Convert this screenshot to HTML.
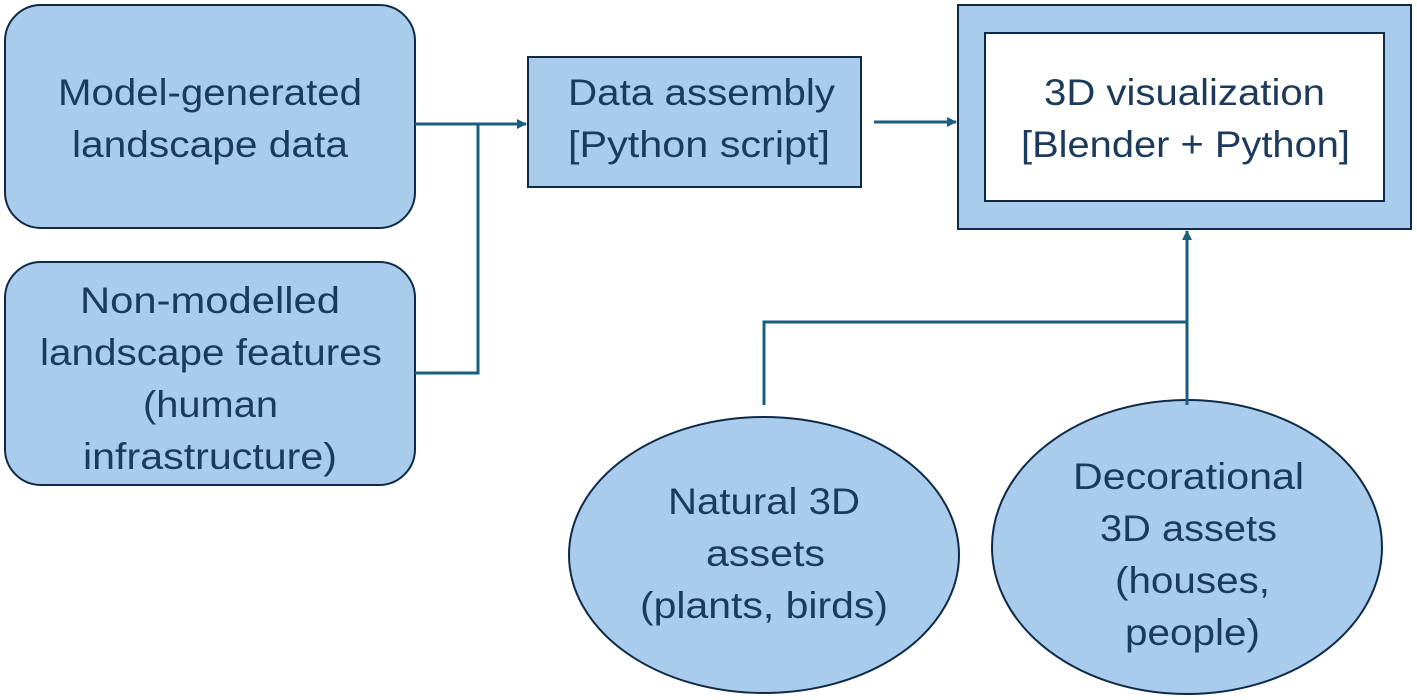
<!DOCTYPE html>
<html><head><meta charset="utf-8"><style>html,body{margin:0;padding:0;background:#fff}svg{display:block}</style></head>
<body>
<svg width="1417" height="700" viewBox="0 0 1417 700" xmlns="http://www.w3.org/2000/svg">
<defs><marker id="a" markerWidth="10" markerHeight="10" refX="9" refY="5" orient="auto" markerUnits="userSpaceOnUse"><path d="M0,0 L10,5 L0,10 z" fill="#1a5f80"/></marker></defs>
<g fill="#a9ccec" stroke="#0e2a47" stroke-width="2">
<rect x="5" y="5" width="410" height="223" rx="36"/>
<rect x="5" y="262" width="410" height="223" rx="36"/>
<rect x="528" y="57" width="333" height="130"/>
<rect x="958" y="5" width="453" height="224"/>
<rect x="985" y="33" width="399" height="168" fill="#fff"/>
<ellipse cx="764" cy="555" rx="195" ry="138"/>
<ellipse cx="1187" cy="547" rx="195" ry="147"/>
</g>
<g stroke="#1a5f80" stroke-width="3" fill="none">
<path d="M415,124 H526" marker-end="url(#a)"/>
<path d="M478,124 V373 H415"/>
<path d="M874,122 H956" marker-end="url(#a)"/>
<path d="M1187,405 V231" marker-end="url(#a)"/>
<path d="M764,405 V322 H1187"/>
</g>
<g font-family="Liberation Sans, sans-serif" font-size="37" fill="#1b3a5c" lengthAdjust="spacingAndGlyphs">
<text x="58" y="105" textLength="304" lengthAdjust="spacingAndGlyphs">Model-generated</text>
<text x="72" y="157" textLength="276" lengthAdjust="spacingAndGlyphs">landscape data</text>
<text x="80" y="313" textLength="260" lengthAdjust="spacingAndGlyphs">Non-modelled</text>
<text x="40" y="365" textLength="342" lengthAdjust="spacingAndGlyphs">landscape features</text>
<text x="143" y="417" textLength="135" lengthAdjust="spacingAndGlyphs">(human</text>
<text x="83" y="469" textLength="254" lengthAdjust="spacingAndGlyphs">infrastructure)</text>
<text x="568" y="105" textLength="267" lengthAdjust="spacingAndGlyphs">Data assembly</text>
<text x="568" y="157" textLength="262" lengthAdjust="spacingAndGlyphs">[Python script]</text>
<text x="1044" y="105" textLength="281" lengthAdjust="spacingAndGlyphs">3D visualization</text>
<text x="1021" y="157" textLength="329" lengthAdjust="spacingAndGlyphs">[Blender + Python]</text>
<text x="668" y="514" textLength="192" lengthAdjust="spacingAndGlyphs">Natural 3D</text>
<text x="706" y="566" textLength="119" lengthAdjust="spacingAndGlyphs">assets</text>
<text x="640" y="618" textLength="248" lengthAdjust="spacingAndGlyphs">(plants, birds)</text>
<text x="1073" y="489" textLength="231" lengthAdjust="spacingAndGlyphs">Decorational</text>
<text x="1100" y="541" textLength="177" lengthAdjust="spacingAndGlyphs">3D assets</text>
<text x="1115" y="593" textLength="155" lengthAdjust="spacingAndGlyphs">(houses,</text>
<text x="1125" y="645" textLength="135" lengthAdjust="spacingAndGlyphs">people)</text>
</g>
</svg>
</body></html>
